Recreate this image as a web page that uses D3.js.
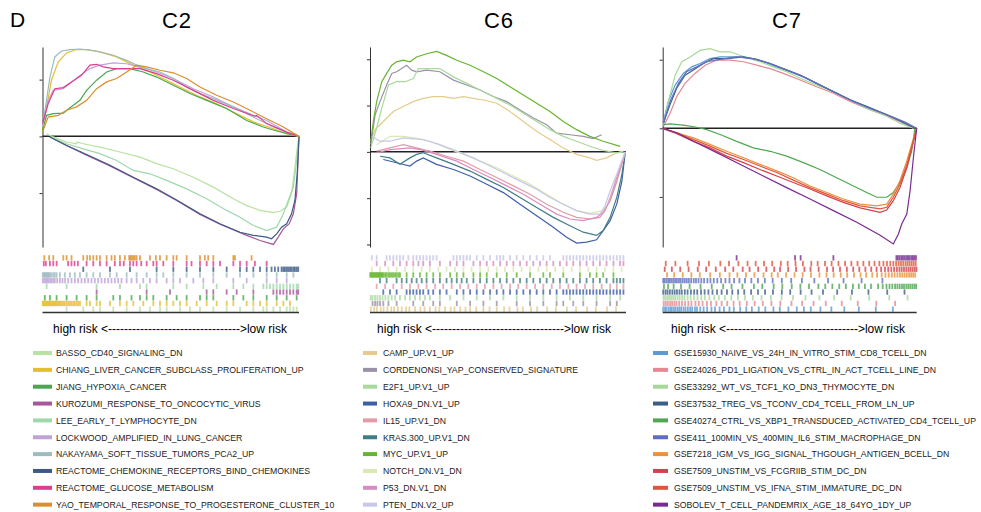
<!DOCTYPE html>
<html>
<head>
<meta charset="utf-8">
<script src="https://cdn.jsdelivr.net/npm/d3@7"></script>
<style>
  body { margin: 0; background: #fff; }
  text { font-family: "Liberation Sans", Arial, sans-serif; }
</style>
</head>
<body>
<svg id="chart" width="981" height="512"></svg>
<script>
// ---- C2 gene sets (legend order) ----
var c2Names = ["BASSO_CD40_SIGNALING_DN", "CHIANG_LIVER_CANCER_SUBCLASS_PROLIFERATION_UP", "JIANG_HYPOXIA_CANCER",
  "KUROZUMI_RESPONSE_TO_ONCOCYTIC_VIRUS", "LEE_EARLY_T_LYMPHOCYTE_DN", "LOCKWOOD_AMPLIFIED_IN_LUNG_CANCER",
  "NAKAYAMA_SOFT_TISSUE_TUMORS_PCA2_UP", "REACTOME_CHEMOKINE_RECEPTORS_BIND_CHEMOKINES", "REACTOME_GLUCOSE_METABOLISM",
  "YAO_TEMPORAL_RESPONSE_TO_PROGESTERONE_CLUSTER_10"];
var c2Colors = ["#b9e2a2", "#e3bf30", "#4aa650", "#a8569b", "#9fd8aa", "#bea2d8", "#9cbcc0", "#3d5a87", "#dc3d8f", "#d98f2b"];

// running enrichment score: [rank %, ES]
var c2Curves = [
  [[1.6,0.009],[4.2,-0.002],[9.4,-0.020],[13.3,-0.026],[13.5,-0.020],[15.9,-0.026],[22.4,-0.038],[30.2,-0.055],[38.0,-0.073],[44.5,-0.096],[51.0,-0.114],[58.8,-0.144],[66.6,-0.179],[74.4,-0.220],[79.6,-0.244],[84.8,-0.261],[90.0,-0.269],[92.6,-0.264],[95.2,-0.249],[97.1,-0.202],[98.4,-0.108],[99.5,-0.026],[100,0]],
  [[0,0.021],[1.6,0.104],[3.5,0.198],[6.1,0.262],[9.4,0.294],[13.3,0.306],[17.2,0.306],[22.4,0.298],[28.9,0.280],[35.4,0.251],[41.9,0.227],[48.4,0.198],[54.9,0.168],[61.4,0.139],[67.9,0.115],[74.4,0.086],[82.2,0.051],[90.0,0.027],[95.2,0.009],[100,0]],
  [[0,0.021],[1.6,0.074],[4.2,0.080],[8.1,0.082],[10.7,0.101],[14.6,0.127],[17.2,0.162],[21.1,0.198],[25.0,0.227],[28.9,0.239],[34.1,0.239],[39.3,0.227],[44.5,0.209],[51.0,0.180],[57.5,0.151],[64.0,0.127],[71.8,0.098],[79.6,0.056],[86.1,0.033],[91.3,0.019],[100,0]],
  [[2.9,-0.002],[9.4,-0.032],[17.2,-0.066],[26.3,-0.104],[35.4,-0.146],[44.5,-0.187],[52.3,-0.226],[61.4,-0.275],[69.2,-0.310],[79.6,-0.349],[84.8,-0.367],[90.0,-0.381],[91.9,-0.355],[93.9,-0.326],[96.2,-0.308],[97.8,-0.273],[99.1,-0.202],[100,0]],
  [[2.9,-0.002],[9.4,-0.026],[15.9,-0.044],[22.4,-0.061],[28.9,-0.085],[35.4,-0.120],[41.9,-0.132],[48.4,-0.155],[56.2,-0.185],[64.0,-0.220],[71.8,-0.261],[77.0,-0.285],[82.2,-0.314],[87.4,-0.332],[91.3,-0.320],[93.9,-0.273],[95.8,-0.226],[97.8,-0.179],[99.1,-0.085],[100,0]],
  [[0,0.033],[2.2,0.127],[4.2,0.162],[8.1,0.168],[10.7,0.186],[14.6,0.215],[18.5,0.239],[22.4,0.251],[27.6,0.259],[32.8,0.256],[38.0,0.245],[44.5,0.227],[51.0,0.204],[58.8,0.168],[66.6,0.139],[74.4,0.104],[82.2,0.074],[87.4,0.056],[95.2,0.015],[100,0]],
  [[0,0.033],[2.9,0.209],[4.8,0.280],[7.4,0.301],[10.7,0.306],[14.6,0.308],[18.5,0.304],[22.4,0.298],[27.6,0.286],[32.8,0.268],[36.7,0.251],[40.6,0.239],[45.8,0.227],[51.0,0.204],[56.2,0.174],[61.4,0.151],[66.6,0.133],[74.4,0.104],[82.2,0.068],[90.0,0.033],[95.2,0.015],[100,0]],
  [[2.9,-0.002],[9.4,-0.032],[17.2,-0.064],[26.3,-0.102],[35.4,-0.144],[44.5,-0.185],[52.3,-0.224],[61.4,-0.273],[69.2,-0.308],[77.0,-0.338],[82.2,-0.349],[87.4,-0.355],[89.3,-0.361],[91.3,-0.344],[93.2,-0.320],[95.2,-0.308],[97.1,-0.273],[98.4,-0.226],[99.3,-0.132],[100,0]],
  [[0,0.045],[2.2,0.115],[4.8,0.168],[8.1,0.172],[11.3,0.192],[15.2,0.215],[18.5,0.251],[21.1,0.254],[23.7,0.245],[27.6,0.239],[32.8,0.239],[38.0,0.239],[44.5,0.221],[51.0,0.198],[58.8,0.162],[66.6,0.127],[74.4,0.098],[82.8,0.071],[83.5,0.074],[87.4,0.045],[95.2,0.015],[100,0]],
  [[0,0.015],[2.2,0.068],[6.1,0.074],[9.4,0.092],[13.3,0.104],[17.2,0.127],[21.1,0.168],[25.0,0.192],[28.9,0.204],[32.8,0.227],[36.7,0.251],[40.6,0.245],[45.8,0.233],[51.0,0.224],[56.2,0.204],[61.4,0.174],[67.9,0.145],[74.4,0.121],[80.9,0.092],[87.4,0.062],[93.9,0.033],[100,0]]
];

// hit positions (rank %) for the rug rows
var c2Hits = [
  [9.4,15.9,19.8,22.4,27.6,32.8,38.0,41.9,45.8,48.4,53.6,57.5,61.4,66.6,71.8,77.0,82.2,86.1,87.4,90.0,92.6,95.2,96.5,97.8,99.1],
  [0.1,0.4,0.8,1.2,1.6,2.0,2.3,2.7,3.1,3.5,3.9,4.3,4.7,5.1,5.5,6.0,6.5,7.0,7.5,8.1,8.7,9.4,10.0,10.7,11.3,12.0,12.6,13.3,13.9,14.6,17.2,18.5,21.1,22.4,26.3,30.2,32.8,35.4,39.3,43.2,45.8,48.4,51.0,53.6,56.2,60.1,64.0,67.9,71.8,74.4,79.6,82.2,84.8,87.4,91.3,93.9,96.5],
  [0.9,2.9,5.5,9.4,13.3,17.2,21.1,27.6,30.2,34.7,38.0,40.6,43.2,48.4,52.3,56.2,61.4,64.0,66.6,74.4,78.3,82.2,87.4,91.3,95.2,99.1],
  [21.1,40.6,49.7,64.0,66.6,71.8,75.7,82.2,90.0,91.3,92.6,93.9,95.2,96.5,97.8,99.1,99.7],
  [1.6,9.4,21.1,30.2,38.0,40.6,51.0,56.2,62.7,67.9,74.4,78.3,82.2,86.1,87.4,88.7,90.0,91.3,92.6,93.9,95.2,96.5,97.8,99.1,99.7],
  [0.1,0.7,1.2,1.7,2.2,2.9,3.5,4.2,4.8,5.7,6.8,7.8,8.8,10.0,11.3,12.6,13.9,15.2,16.5,17.8,19.1,20.4,21.7,23.0,24.3,25.6,26.9,28.2,29.5,30.8,32.8,34.7,36.7,39.3,41.9,44.5,48.4,51.0,53.6,58.8,62.7,66.6,74.4,79.6,87.4,91.3,95.2],
  [0.1,0.5,0.9,1.3,1.7,2.1,2.5,2.9,3.5,4.2,4.8,5.5,6.8,8.7,10.7,12.6,14.6,17.2,19.8,22.4,26.3,28.9,32.8,36.7,40.6,44.5,47.1,51.0,56.2,61.4,66.6,71.8,77.0,82.2,87.4,91.3,95.2,97.8],
  [15.9,26.3,34.1,44.5,51.0,56.2,61.4,66.6,71.8,77.0,79.6,82.2,84.8,87.4,89.3,90.6,91.9,93.2,93.9,94.5,95.2,95.8,96.5,97.1,97.8,98.4,99.1,99.7],
  [0.5,1.3,2.9,4.2,5.5,10.0,11.3,12.5,13.8,17.2,19.8,22.4,25.0,28.2,30.2,31.7,34.1,35.4,36.7,38.5,40.6,43.2,44.5,47.1,51.0,56.2,58.1,61.4,64.0,66.6,69.2,74.4,77.0,79.6,82.8,87.4],
  [0.7,2.6,4.2,8.1,9.4,11.3,15.9,17.4,18.5,19.8,21.1,22.4,25.0,26.9,28.2,30.2,32.1,33.8,34.3,34.8,35.4,36.0,36.7,38.0,41.9,44.2,45.8,48.4,51.0,52.3,56.2,61.4,63.3,64.6,66.6,74.4,75.0,81.5]
];

// ---- C6 gene sets ----
var c6Names = ["CAMP_UP.V1_UP", "CORDENONSI_YAP_CONSERVED_SIGNATURE", "E2F1_UP.V1_UP", "HOXA9_DN.V1_UP", "IL15_UP.V1_DN",
  "KRAS.300_UP.V1_DN", "MYC_UP.V1_UP", "NOTCH_DN.V1_DN", "P53_DN.V1_DN", "PTEN_DN.V2_UP"];
var c6Colors = ["#e5cb8c", "#9a91a9", "#a9da9c", "#3f5ea8", "#e39ba7", "#3f7e86", "#66b52f", "#d9e9b2", "#d98cc2", "#c7c7e9"];

var c6Curves = [
  [[0.3,0.046],[2.0,0.096],[5.2,0.131],[9.1,0.174],[13.0,0.196],[16.9,0.217],[20.8,0.231],[24.7,0.239],[28.6,0.239],[32.6,0.231],[36.5,0.239],[40.4,0.231],[44.3,0.224],[49.5,0.210],[54.7,0.174],[59.9,0.131],[65.1,0.089],[70.3,0.053],[75.5,0.017],[80.7,-0.011],[85.9,-0.026],[88.5,-0.037],[92.4,-0.026],[96.4,-0.004],[99.0,0.003]],
  [[0.3,0.031],[2.0,0.160],[3.9,0.217],[6.5,0.289],[8.5,0.339],[10.4,0.346],[12.4,0.360],[14.3,0.374],[16.3,0.353],[18.2,0.346],[22.1,0.353],[27.3,0.346],[32.6,0.310],[37.8,0.289],[43.0,0.267],[48.2,0.239],[53.4,0.217],[58.6,0.181],[63.8,0.146],[69.0,0.117],[72.9,0.081],[78.1,0.074],[83.3,0.067],[87.2,0.057],[90.5,0.074]],
  [[0.3,0.017],[2.6,0.103],[4.6,0.189],[7.2,0.289],[10.4,0.303],[13.7,0.303],[16.9,0.317],[18.9,0.360],[22.1,0.360],[27.3,0.360],[32.6,0.324],[37.8,0.296],[43.0,0.267],[49.5,0.231],[54.7,0.203],[59.9,0.167],[65.1,0.131],[70.3,0.096],[75.5,0.067],[80.7,0.046],[85.9,0.024],[91.1,0.006],[96.4,-0.004],[99.0,0.0]],
  [[5.2,-0.033],[10.4,-0.047],[15.6,-0.061],[18.2,-0.040],[20.8,-0.026],[26.0,-0.054],[32.6,-0.076],[39.1,-0.104],[45.6,-0.140],[52.1,-0.176],[58.6,-0.226],[65.1,-0.276],[71.6,-0.326],[76.8,-0.369],[80.7,-0.394],[84.6,-0.390],[88.5,-0.380],[91.1,-0.340],[93.8,-0.297],[96.4,-0.226],[98.4,-0.126],[99.7,0]],
  [[2.6,0.003],[7.8,0.017],[13.0,0.031],[18.2,0.017],[23.4,0.003],[29.9,-0.019],[36.5,-0.040],[43.0,-0.076],[49.5,-0.111],[56.0,-0.147],[62.5,-0.183],[69.0,-0.226],[75.5,-0.261],[80.7,-0.283],[85.9,-0.290],[89.8,-0.283],[91.8,-0.254],[93.8,-0.197],[96.4,-0.111],[99.7,0]],
  [[3.9,-0.019],[7.8,-0.026],[11.7,-0.054],[15.6,-0.026],[18.2,-0.011],[20.8,-0.004],[26.0,-0.026],[32.6,-0.054],[39.1,-0.083],[45.6,-0.119],[52.1,-0.154],[58.6,-0.197],[65.1,-0.240],[71.6,-0.283],[78.1,-0.319],[83.3,-0.347],[88.5,-0.361],[91.1,-0.340],[93.8,-0.283],[96.4,-0.197],[98.4,-0.097],[99.7,0]],
  [[0.3,0.046],[1.3,0.131],[2.6,0.217],[4.6,0.303],[6.5,0.339],[8.5,0.374],[10.4,0.389],[13.0,0.396],[15.6,0.389],[18.2,0.410],[22.1,0.424],[26.0,0.434],[29.9,0.417],[33.9,0.396],[39.1,0.374],[44.3,0.346],[49.5,0.317],[54.7,0.281],[59.9,0.246],[65.1,0.210],[70.3,0.174],[75.5,0.131],[80.7,0.096],[85.9,0.067],[91.1,0.046],[97.7,0.024]],
  [[2.6,0.031],[7.8,0.067],[13.0,0.067],[18.2,0.060],[23.4,0.046],[29.9,0.017],[36.5,-0.011],[43.0,-0.040],[49.5,-0.069],[56.0,-0.104],[62.5,-0.140],[69.0,-0.183],[75.5,-0.226],[80.7,-0.254],[85.9,-0.266],[91.1,-0.254],[93.8,-0.211],[95.7,-0.154],[97.7,-0.083],[99.7,0]],
  [[2.6,-0.004],[7.8,0.010],[15.6,0.017],[19.5,0.010],[26.0,-0.011],[33.9,-0.040],[40.4,-0.076],[46.9,-0.111],[53.4,-0.147],[59.9,-0.183],[66.4,-0.226],[72.9,-0.269],[78.1,-0.290],[83.3,-0.297],[88.5,-0.283],[91.1,-0.261],[93.8,-0.211],[96.4,-0.126],[99.7,0]],
  [[0.7,0.067],[3.9,0.046],[7.8,0.046],[13.0,0.060],[20.8,0.053],[27.3,0.031],[33.9,0.003],[40.4,-0.026],[46.9,-0.061],[53.4,-0.097],[59.9,-0.133],[65.1,-0.161],[70.3,-0.197],[75.5,-0.226],[80.7,-0.254],[85.9,-0.269],[89.8,-0.269],[91.8,-0.233],[93.8,-0.169],[96.4,-0.097],[98.3,-0.040],[99.7,0]]
];

var c6Hits = [
  [0.3,1.6,2.7,4.2,5.3,6.8,8.3,9.4,10.9,12.4,14.1,15.4,17.6,19.7,21.3,23.4,25.6,27.1,29.3,31.5,33.0,35.2,37.3,39.1,41.5,44.3,46.7,49.5,52.4,54.5,57.6,59.7,62.9,65.3,69.2,72.6,76.9,80.5,84.8,88.2,92.6,96.1],
  [1.0,2.0,2.9,3.9,5.2,7.2,10.4,16.9,20.8,24.7,27.3,33.9,39.1,44.3,49.5,57.3,62.5,67.7,72.9,75.5,79.4,83.3,88.5,93.8,96.4],
  [0.3,1.0,2.0,2.9,3.9,4.9,6.0,7.2,8.5,9.8,11.7,13.7,15.6,17.6,19.5,21.5,23.4,27.3,31.3,36.5,41.7,46.9,52.1,57.3,62.5,67.7,72.9,78.1,83.3,88.5,93.8,97.7],
  [5.2,7.8,10.4,14.3,15.6,16.9,18.2,19.5,20.8,22.8,24.7,27.3,29.9,33.9,36.5,39.1,41.7,44.3,46.9,49.5,52.1,54.7,57.3,59.9,62.5,65.1,67.7,70.3,72.9,75.5,76.8,78.1,79.4,80.7,82.0,83.3,84.6,85.9,87.2,88.5,89.8,91.1,92.4,93.8,95.1,96.4,97.7,99.0],
  [2.6,5.9,9.1,12.4,15.6,18.9,22.1,25.4,28.6,31.9,35.2,38.4,41.7,44.9,48.2,51.4,54.7,57.9,61.2,64.5,67.7,71.0,74.2,77.5,80.7,84.0,87.2,90.5,93.8,96.4,99.0],
  [3.9,6.5,10.4,12.4,14.3,16.3,18.2,20.2,22.1,24.7,27.3,29.9,31.9,33.9,35.8,37.8,40.4,43.0,45.6,48.2,50.8,53.4,56.0,58.6,61.2,63.8,66.4,69.0,71.6,74.2,76.8,79.4,82.0,84.6,87.2,89.8,92.4,95.1,96.4,97.7,99.0],
  [0.1,0.5,0.9,1.3,1.7,2.1,2.5,2.9,3.3,3.6,4.0,4.4,4.8,5.2,5.9,6.5,7.2,7.8,8.5,9.1,9.8,10.4,11.1,11.7,14.3,16.9,19.5,22.1,24.7,27.3,31.3,33.9,36.5,40.4,43.0,45.6,49.5,53.4,57.3,62.5,67.7,70.3,75.5,82.0,85.9,88.5,91.1,95.1],
  [0.7,3.9,7.2,10.4,13.7,16.9,20.2,23.4,26.7,29.9,33.2,36.5,39.7,43.0,46.2,49.5,52.7,56.0,59.2,62.5,65.8,69.0,72.3,75.5,78.8,82.0,85.3,88.5,91.8,95.1,98.3],
  [2.6,5.9,9.1,11.7,14.3,16.9,18.9,20.8,23.4,27.3,31.3,33.9,36.5,40.4,43.0,45.6,48.2,50.8,53.4,56.0,58.6,61.2,63.8,66.4,69.0,71.6,74.2,76.8,79.4,82.0,84.6,87.2,89.8,92.4,95.1,97.7,99.0],
  [0.7,2.6,6.5,7.8,9.1,10.4,11.7,13.0,15.0,16.9,18.2,19.5,20.8,22.1,23.4,24.7,26.0,32.6,33.9,35.2,36.5,37.8,39.1,41.7,44.3,46.9,49.5,50.8,52.1,54.7,57.3,59.9,62.5,65.1,67.7,70.3,75.5,76.8,78.1,79.4,80.7,82.0,83.3,84.6,85.9,87.2,88.5,89.8,91.1,92.4,93.8,95.1,96.4,97.7,99.0]
];

// ---- C7 gene sets ----
var c7Names = ["GSE15930_NAIVE_VS_24H_IN_VITRO_STIM_CD8_TCELL_DN", "GSE24026_PD1_LIGATION_VS_CTRL_IN_ACT_TCELL_LINE_DN",
  "GSE33292_WT_VS_TCF1_KO_DN3_THYMOCYTE_DN", "GSE37532_TREG_VS_TCONV_CD4_TCELL_FROM_LN_UP",
  "GSE40274_CTRL_VS_XBP1_TRANSDUCED_ACTIVATED_CD4_TCELL_UP", "GSE411_100MIN_VS_400MIN_IL6_STIM_MACROPHAGE_DN",
  "GSE7218_IGM_VS_IGG_SIGNAL_THGOUGH_ANTIGEN_BCELL_DN", "GSE7509_UNSTIM_VS_FCGRIIB_STIM_DC_DN",
  "GSE7509_UNSTIM_VS_IFNA_STIM_IMMATURE_DC_DN", "SOBOLEV_T_CELL_PANDEMRIX_AGE_18_64YO_1DY_UP"];
var c7Colors = ["#5a9bd6", "#e58893", "#a9d79b", "#3b5e89", "#4ea850", "#5f6fc0", "#ea923b", "#d8404b", "#e0553a", "#7a2a8f"];

var c7Curves = [
  [[0.3,0.020],[2.2,0.078],[4.9,0.126],[8.1,0.160],[11.4,0.179],[14.7,0.189],[18.6,0.203],[22.6,0.208],[26.5,0.208],[30.4,0.208],[34.4,0.203],[39.6,0.194],[44.9,0.179],[50.1,0.165],[56.7,0.146],[63.3,0.121],[69.8,0.097],[76.4,0.073],[84.3,0.049],[92.1,0.025],[98.7,0.001]],
  [[0.3,0.006],[2.9,0.044],[5.5,0.092],[8.8,0.131],[12.7,0.160],[16.7,0.184],[21.3,0.199],[26.5,0.199],[31.8,0.194],[37.0,0.184],[42.3,0.174],[47.5,0.160],[54.1,0.141],[60.6,0.121],[67.2,0.102],[73.8,0.078],[80.3,0.058],[86.9,0.040],[93.4,0.020],[98.7,0]],
  [[0.3,0.011],[2.2,0.078],[4.9,0.155],[7.5,0.194],[10.8,0.208],[14.7,0.227],[18.6,0.232],[22.6,0.223],[26.5,0.223],[30.4,0.213],[34.4,0.203],[38.3,0.194],[43.6,0.179],[48.8,0.165],[54.1,0.146],[60.6,0.126],[67.2,0.107],[73.8,0.083],[80.3,0.058],[86.9,0.040],[93.4,0.015],[98.7,0]],
  [[0.3,0.015],[2.9,0.069],[5.5,0.117],[8.8,0.155],[12.1,0.170],[16.0,0.189],[19.9,0.203],[25.2,0.203],[31.8,0.208],[37.0,0.201],[42.3,0.189],[47.5,0.174],[54.1,0.155],[60.6,0.131],[67.2,0.107],[73.8,0.083],[80.3,0.064],[86.9,0.044],[93.4,0.022],[99.3,0]],
  [[0.3,0.011],[2.9,0.013],[8.1,0.009],[13.4,0.003],[17.3,-0.004],[22.6,-0.018],[29.1,-0.038],[35.7,-0.057],[42.3,-0.067],[48.8,-0.081],[55.4,-0.100],[61.9,-0.120],[68.5,-0.144],[75.1,-0.168],[80.3,-0.187],[84.3,-0.201],[88.2,-0.201],[90.8,-0.187],[93.4,-0.158],[96.1,-0.115],[98.0,-0.067],[99.3,0]],
  [[0.3,0.015],[2.9,0.078],[6.2,0.131],[9.4,0.165],[13.4,0.179],[17.3,0.194],[22.6,0.201],[29.1,0.208],[35.7,0.203],[42.3,0.189],[48.8,0.170],[55.4,0.150],[61.9,0.126],[68.5,0.102],[75.1,0.078],[81.6,0.058],[88.2,0.040],[95.4,0.018],[100,0]],
  [[0.3,-0.001],[5.5,-0.013],[12.1,-0.028],[18.6,-0.047],[25.2,-0.067],[31.8,-0.086],[38.3,-0.105],[44.9,-0.124],[51.4,-0.144],[58.0,-0.168],[64.6,-0.187],[71.1,-0.206],[77.7,-0.221],[84.3,-0.226],[88.2,-0.221],[90.8,-0.192],[93.4,-0.153],[96.1,-0.095],[98.0,-0.047],[100,0]],
  [[0.3,-0.001],[5.5,-0.016],[12.1,-0.038],[18.6,-0.057],[25.2,-0.081],[31.8,-0.100],[38.3,-0.120],[44.9,-0.139],[51.4,-0.158],[58.0,-0.177],[64.6,-0.197],[71.1,-0.216],[77.7,-0.232],[85.6,-0.245],[88.2,-0.238],[90.8,-0.211],[93.4,-0.173],[96.1,-0.115],[98.7,-0.038],[100,0]],
  [[0.3,-0.001],[5.5,-0.013],[12.1,-0.033],[18.6,-0.052],[25.2,-0.073],[31.8,-0.091],[38.3,-0.110],[44.9,-0.129],[51.4,-0.151],[58.0,-0.173],[64.6,-0.192],[71.1,-0.211],[77.7,-0.226],[85.6,-0.235],[88.2,-0.230],[90.8,-0.201],[93.4,-0.163],[96.1,-0.105],[98.7,-0.038],[100,0]],
  [[0.3,-0.001],[5.5,-0.013],[12.1,-0.038],[21.3,-0.071],[30.4,-0.105],[39.6,-0.139],[48.8,-0.173],[58.0,-0.206],[67.2,-0.240],[76.4,-0.274],[85.6,-0.312],[90.8,-0.337],[92.8,-0.308],[94.1,-0.279],[96.1,-0.250],[97.4,-0.182],[98.7,-0.086],[100,0]]
];

var c7Hits = [
  [0.2,0.9,1.5,2.3,3.0,3.6,4.4,5.1,5.9,6.6,7.3,8.2,9.0,9.9,10.8,11.6,12.7,13.5,14.8,16.1,17.5,19.2,20.6,22.4,24.1,26.3,28.0,30.5,32.9,35.1,37.8,40.4,43.6,46.1,49.5,52.8,55.6,58.3,62.1,66.4,71.5,77.2,83.9,90.6],
  [0.4,1.2,2.0,2.9,3.7,4.6,5.4,6.5,7.6,8.8,10.1,11.3,12.9,14.2,15.7,17.4,19.0,21.1,23.2,25.4,27.9,30.3,33.1,36.2,39.4,42.8,46.3,50.7,54.9,59.4,64.2,70.5,76.8,84.1,91.5],
  [0.3,1.0,1.8,2.5,3.3,4.1,4.9,5.8,6.7,7.7,8.6,9.8,11.0,12.3,13.7,15.2,16.6,18.4,20.3,22.1,24.5,27.0,29.6,32.4,35.5,38.9,42.6,46.8,51.3,56.2,61.7,67.5,74.0,81.3,89.2,96.4],
  [0.2,1.1,1.9,2.8,3.8,4.7,5.6,6.6,7.5,8.7,9.8,11.1,12.4,13.6,15.1,16.5,18.0,19.6,21.4,23.2,25.3,27.4,29.7,32.1,34.8,37.5,40.3,43.4,46.9,50.2,54.3,58.6,63.1,68.7,74.5,81.0,88.4,95.2],
  [0.5,2.1,4.3,7.2,10.6,14.9,19.3,23.8,27.1,31.4,35.9,39.2,43.7,47.1,50.8,54.2,57.6,61.3,64.0,66.8,69.5,72.1,74.9,77.2,79.6,82.0,84.8,86.6,88.1,89.3,90.4,91.5,92.4,93.3,94.2,95.0,95.9,96.7,97.5,98.3,99.1,99.8],
  [0.2,0.8,1.5,2.2,2.8,3.5,4.2,4.9,5.6,6.4,7.1,7.9,8.7,9.5,10.3,11.2,12.2,13.1,14.1,15.2,16.3,17.6,18.8,20.1,21.5,23.0,24.7,26.3,28.1,30.2,32.4,34.9,37.5,40.2,43.3,46.9,50.6,54.8,59.7,65.1,71.2,78.3,86.5],
  [1.7,4.5,7.9,11.3,14.6,18.7,22.5,26.3,29.4,32.8,36.1,39.7,42.9,45.3,48.6,51.9,55.1,58.4,61.7,64.5,67.3,70.1,72.6,75.3,77.9,80.1,82.5,84.4,86.2,87.7,89.0,90.2,91.3,92.4,93.4,94.3,95.2,96.1,97.0,97.8,98.6,99.4],
  [0.8,3.6,6.9,10.2,13.8,17.1,20.9,24.6,27.8,31.5,34.2,37.6,40.8,43.9,46.2,49.4,52.5,55.8,58.2,61.4,64.7,67.1,69.8,72.5,75.0,77.4,79.8,82.1,84.2,86.0,87.5,88.8,90.0,91.1,92.2,93.2,94.1,95.0,95.9,96.8,97.6,98.4,99.2,99.9],
  [1.2,5.0,9.8,14.3,18.2,22.7,26.1,29.8,33.4,36.6,39.9,43.1,46.5,49.2,52.3,55.2,58.5,61.0,63.9,66.5,69.2,71.8,74.3,76.7,79.0,81.3,83.4,85.3,86.9,88.3,89.6,90.8,91.9,92.9,93.8,94.7,95.6,96.4,97.2,98.0,98.8,99.6],
  [29.1,52.1,54.3,67.2,92.0,92.6,93.3,94.0,94.6,95.3,96.0,96.6,97.2,97.9,98.5,99.1,99.7]
];

// layout of the three panels
var panels = [
  { title: "C2", names: c2Names, colors: c2Colors, curves: c2Curves, hits: c2Hits,
    left: 42.5, right: 299, domain: [-0.39, 0.315], ticks: [-0.2, 0, 0.2],
    titleX: 177, labelX: 170, swatchX: 33, swatchW: 19, textX: 56 },
  { title: "C6", names: c6Names, colors: c6Colors, curves: c6Curves, hits: c6Hits,
    left: 370, right: 626, domain: [-0.411, 0.453], ticks: [-0.4, -0.2, 0, 0.2, 0.4],
    titleX: 499, labelX: 494, swatchX: 363, swatchW: 14, textX: 383 },
  { title: "C7", names: c7Names, colors: c7Colors, curves: c7Curves, hits: c7Hits,
    left: 662.7, right: 916.7, domain: [-0.346, 0.237], ticks: [-0.2, 0, 0.2],
    titleX: 787, labelX: 788, swatchX: 653, swatchW: 15, textX: 674 }
];

var plotTop = 47, plotBottom = 247;
var rugTop = 255, rugBottom = 312;
var legendTop = 353, legendStep = 16.85;

var svg = d3.select('#chart');

svg.append('text')
  .attr('x', 10).attr('y', 27)
  .attr('font-size', 21)
  .text('D');

panels.forEach(function (p) {
  var x = d3.scaleLinear().domain([0, 100]).range([p.left, p.right]);
  var y = d3.scaleLinear().domain(p.domain).range([plotBottom, plotTop]);
  var g = svg.append('g');

  // title
  g.append('text')
    .attr('x', p.titleX).attr('y', 28)
    .attr('text-anchor', 'middle')
    .attr('font-size', 22)
    .attr('letter-spacing', 1)
    .text(p.title);

  // y axis, no labels
  g.append('g')
    .attr('transform', 'translate(' + p.left + ',0)')
    .call(d3.axisLeft(y).tickValues(p.ticks).tickSize(3).tickSizeOuter(0).tickFormat(''))
    .call(function (a) {
      a.selectAll('path, line').attr('stroke', '#333').attr('stroke-width', 1);
    });

  // zero line
  g.append('line')
    .attr('x1', x(0)).attr('x2', x(100))
    .attr('y1', y(0)).attr('y2', y(0))
    .attr('stroke', '#222').attr('stroke-width', 1.5);

  // running ES curves
  var line = d3.line()
    .x(function (d) { return x(d[0]); })
    .y(function (d) { return y(d[1]); });

  g.selectAll('path.es')
    .data(p.curves)
    .enter()
    .append('path')
    .attr('class', 'es')
    .attr('d', line)
    .attr('fill', 'none')
    .attr('stroke', function (d, i) { return p.colors[i]; })
    .attr('stroke-width', 1.2);

  // rug of hits, first gene set at the bottom
  var rowH = (rugBottom - rugTop) / p.names.length;
  p.hits.forEach(function (row, i) {
    g.selectAll(null)
      .data(row)
      .enter()
      .append('rect')
      .attr('x', function (d) { return x(d) - 0.9; })
      .attr('y', rugBottom - (i + 1) * rowH + 0.2)
      .attr('width', 1.8)
      .attr('height', rowH - 0.4)
      .attr('fill', p.colors[i])
      .attr('opacity', 0.8);
  });

  g.append('line')
    .attr('x1', x(0)).attr('x2', x(100))
    .attr('y1', rugBottom + 0.5).attr('y2', rugBottom + 0.5)
    .attr('stroke', '#333').attr('stroke-width', 1.5);

  g.append('text')
    .attr('x', p.labelX).attr('y', 333)
    .attr('text-anchor', 'middle')
    .attr('font-size', 12)
    .text('high risk <--------------------------------->low risk');

  // legend
  var leg = g.selectAll('g.leg')
    .data(p.names)
    .enter()
    .append('g')
    .attr('transform', function (d, i) { return 'translate(0,' + (legendTop + i * legendStep) + ')'; });

  leg.append('rect')
    .attr('x', p.swatchX).attr('y', -2)
    .attr('width', p.swatchW).attr('height', 4)
    .attr('fill', function (d, i) { return p.colors[i]; });

  leg.append('text')
    .attr('x', p.textX).attr('y', 3.3)
    .attr('font-size', 8.7)
    .attr('fill', '#222')
    .text(function (d) { return d; });
});
</script>
</body>
</html>
